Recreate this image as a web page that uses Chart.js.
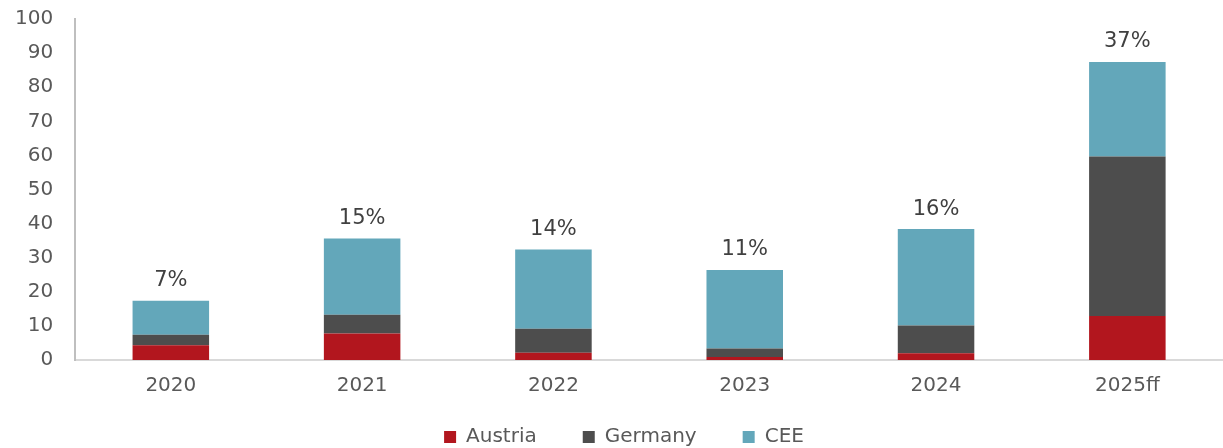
<!DOCTYPE html>
<html>
<head>
<meta charset="utf-8">
<script src="https://cdn.jsdelivr.net/npm/chart.js@4/dist/chart.umd.min.js"></script>
<style>
html,body{margin:0;padding:0;background:#fff;}
#wrap{width:1223px;height:448px;position:relative;}
</style>
</head>
<body>
<div id="wrap"><canvas id="c"></canvas></div>
<script>
const categories = ['2020','2021','2022','2023','2024','2025ff'];
const austria = [4.3, 7.8, 2.1, 0.9, 2.0, 12.9];
const germany = [3.1, 5.5, 7.1, 2.5, 8.1, 46.8];
const cee = [10.0, 22.3, 23.2, 23.0, 28.3, 27.7];
const shareLabels = ['7%','15%','14%','11%','16%','37%'];

const FONT = "'DejaVu Sans', Verdana, sans-serif";

const topLabels = {
  id: 'topLabels',
  afterDatasetsDraw(chart) {
    const ctx = chart.ctx;
    const y = chart.scales.y;
    const x = chart.scales.x;
    ctx.save();
    ctx.font = '21px ' + FONT;
    ctx.fillStyle = '#404040';
    ctx.textAlign = 'center';
    ctx.textBaseline = 'middle';
    categories.forEach((c, i) => {
      const total = austria[i] + germany[i] + cee[i];
      const px = x.getPixelForValue(i);
      const py = y.getPixelForValue(total) - 20;
      ctx.fillText(shareLabels[i], px, py);
    });
    ctx.restore();
  }
};

const LEGEND_H = 36;
const LEGEND_SHIFT = 31;
const LEGEND_DX = 16;
const legendFit = {
  id: 'legendFit',
  beforeUpdate(chart) {
    const lg = chart.legend;
    if (lg && !lg._patched) {
      const origFit = lg.fit;
      lg.fit = function() {
        origFit.call(this);
        this.height = LEGEND_H;
      };
      const origDraw = lg.draw;
      lg.draw = function() {
        const t = this.top, l = this.left, r = this.right;
        this.top = t - LEGEND_SHIFT;
        this.left = l + LEGEND_DX;
        this.right = r + LEGEND_DX;
        origDraw.call(this);
        this.top = t; this.left = l; this.right = r;
      };
      lg._patched = true;
    }
  }
};

new Chart(document.getElementById('c'), {
  type: 'bar',
  data: {
    labels: categories,
    datasets: [
      {label: 'Austria', data: austria, backgroundColor: '#B2161E'},
      {label: 'Germany', data: germany, backgroundColor: '#4D4D4D'},
      {label: 'CEE', data: cee, backgroundColor: '#63A7BA'}
    ]
  },
  options: {
    responsive: true,
    maintainAspectRatio: false,
    animation: false,
    layout: {padding: {left: -7, right: 0, top: 19, bottom: 0}},
    datasets: {bar: {barPercentage: 0.40, categoryPercentage: 1.0, borderWidth: 0}},
    plugins: {
      tooltip: {enabled: false},
      legend: {
        position: 'bottom',
        labels: {
          font: {family: FONT, size: 20},
          color: '#595959',
          boxWidth: 12,
          boxHeight: 12,
          padding: 46
        }
      }
    },
    scales: {
      x: {
        stacked: true,
        grid: {display: false, drawTicks: false},
        border: {display: true, color: '#D9D9D9', width: 2},
        ticks: {font: {family: FONT, size: 20}, color: '#595959', padding: 14}
      },
      y: {
        stacked: true,
        min: 0, max: 100,
        grid: {display: false, drawTicks: false},
        border: {display: true, color: '#BFBFBF', width: 2},
        ticks: {stepSize: 10, font: {family: FONT, size: 20}, color: '#595959', padding: 22},
        afterFit(scale) { scale.paddingTop = 12; }
      }
    }
  },
  plugins: [topLabels, legendFit]
});
</script>
</body>
</html>
